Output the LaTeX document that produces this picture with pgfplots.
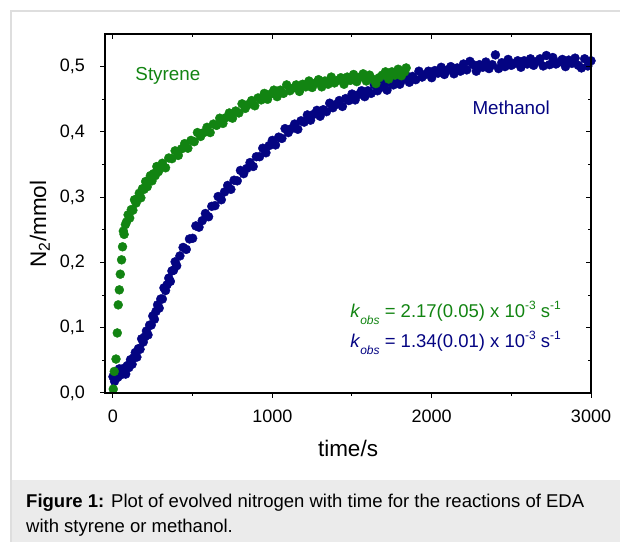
\documentclass[border=0pt]{standalone}
\usepackage{fontspec}
\setmainfont{Liberation Sans}
\usepackage{pgfplots}
\pgfplotsset{compat=1.18}
\definecolor{styr}{RGB}{18,132,18}
\definecolor{meth}{RGB}{4,4,130}
\definecolor{capbg}{RGB}{235,235,235}
\definecolor{framec}{RGB}{222,222,222}

\pgfplotsset{
  base/.style={
    scale only axis, width=486bp, height=359bp,
    at={(105bp,149bp)}, anchor=south west,
    xmin=-50, xmax=3000, ymin=0, ymax=0.55,
    xtick={0,1000,2000,3000}, minor x tick num=1,
    ytick={0,0.1,0.2,0.3,0.4,0.5}, minor y tick num=1,
    major tick length=5bp, minor tick length=3bp,
    axis line style={line width=1.1bp},
    every tick/.style={black, line width=1bp},
  }
}

\begin{document}
\begin{tikzpicture}[x=1bp,y=1bp]
\useasboundingbox (0,0) rectangle (620,542);
% frame and caption box
\fill[capbg] (11,0) rectangle (620,62);
\draw[framec, line width=1.2bp] (11,0) -- (11,531) -- (621,531);
\node[anchor=base west, inner sep=0pt, font=\fontsize{18.5bp}{22bp}\selectfont] at (26,34)
  {\textbf{Figure 1:} Plot of evolved nitrogen with time for the reactions of EDA};
\node[anchor=base west, inner sep=0pt, font=\fontsize{18.5bp}{22bp}\selectfont] at (26,9.5)
  {with styrene or methanol.};

\begin{axis}[base,
  tick align=outside, xtick pos=left, ytick pos=left,
  tick label style={font=\fontsize{18bp}{21bp}\selectfont},
  xticklabel style={inner sep=0pt, anchor=north, yshift=-12bp},
  yticklabel style={inner sep=0pt, anchor=east, xshift=-15bp,
    /pgf/number format/fixed, /pgf/number format/precision=1,
    /pgf/number format/fixed zerofill},
  /pgf/number format/assume math mode=true,
  /pgf/number format/use comma,
  /pgf/number format/1000 sep={},
  xlabel={time/s},
  ylabel={N\textsubscript{2}/mmol},
  every axis x label/.style={at={(axis description cs:0.5,-0.178)}, anchor=base,
    font=\fontsize{22.5bp}{26bp}\selectfont},
  every axis y label/.style={at={(axis description cs:-0.134,0.471)}, rotate=90,
    anchor=center, font=\fontsize{22.5bp}{26bp}\selectfont},
]
% methanol
\addplot[only marks, mark=*, mark size=4.5pt, color=meth] table {
0 0.025
10 0.018
20 0.028
30 0.024
40 0.037
50 0.028
60 0.032
70 0.038
80 0.029
90 0.042
100 0.039
110 0.051
120 0.044
130 0.054
140 0.062
150 0.055
160 0.068
170 0.067
180 0.083
190 0.078
200 0.086
210 0.095
220 0.089
230 0.104
240 0.104
250 0.118
260 0.113
270 0.125
280 0.135
290 0.130
300 0.144
310 0.144
320 0.161
330 0.157
340 0.166
350 0.176
360 0.171
370 0.187
380 0.188
390 0.201
400 0.195
420 0.210
440 0.223
460 0.220
480 0.236
500 0.237
520 0.256
540 0.254
560 0.264
580 0.275
600 0.270
620 0.286
640 0.287
660 0.301
680 0.296
700 0.308
720 0.318
740 0.312
760 0.326
780 0.325
800 0.341
820 0.336
840 0.344
860 0.353
880 0.347
900 0.362
920 0.362
940 0.375
960 0.368
980 0.379
1000 0.387
1020 0.380
1040 0.392
1060 0.390
1080 0.405
1100 0.399
1120 0.405
1140 0.412
1160 0.404
1180 0.417
1200 0.415
1220 0.426
1240 0.418
1260 0.427
1280 0.433
1300 0.424
1320 0.434
1340 0.431
1360 0.444
1380 0.437
1400 0.442
1420 0.448
1440 0.439
1460 0.451
1480 0.448
1500 0.458
1520 0.449
1540 0.457
1560 0.463
1580 0.454
1600 0.463
1620 0.459
1640 0.472
1660 0.463
1680 0.468
1700 0.474
1720 0.464
1740 0.476
1760 0.472
1780 0.482
1800 0.473
1820 0.480
1840 0.486
1860 0.476
1880 0.485
1900 0.480
1920 0.493
1940 0.484
1960 0.488
1980 0.493
2000 0.483
2020 0.494
2040 0.490
2060 0.499
2080 0.488
2100 0.495
2120 0.500
2140 0.489
2160 0.498
2180 0.493
2200 0.504
2220 0.495
2240 0.508
2260 0.503
2280 0.493
2300 0.503
2320 0.499
2340 0.507
2360 0.497
2380 0.503
2400 0.518
2420 0.497
2440 0.506
2460 0.500
2480 0.511
2500 0.502
2520 0.505
2540 0.509
2560 0.499
2580 0.509
2600 0.504
2620 0.512
2640 0.502
2660 0.508
2680 0.512
2700 0.501
2720 0.517
2740 0.503
2760 0.514
2780 0.504
2800 0.507
2820 0.511
2840 0.500
2860 0.510
2880 0.505
2900 0.513
2920 0.502
2940 0.498
2960 0.512
2980 0.501
3000 0.509
};
% styrene
\addplot[only marks, mark=*, mark size=4.5pt, color=styr] table {
2 0.006
8 0.033
19 0.052
27 0.092
33 0.135
40 0.158
46 0.182
54 0.204
60 0.224
65 0.248
70 0.243
78 0.258
85 0.262
95 0.273
105 0.268
115 0.281
125 0.280
135 0.296
145 0.291
155 0.298
165 0.306
175 0.299
185 0.313
195 0.312
205 0.324
215 0.316
225 0.326
235 0.333
245 0.325
255 0.336
265 0.333
275 0.347
285 0.339
295 0.345
310 0.352
330 0.345
350 0.360
370 0.359
390 0.371
410 0.364
430 0.374
450 0.382
470 0.375
490 0.387
510 0.385
530 0.399
550 0.393
570 0.399
590 0.407
610 0.399
630 0.412
650 0.410
670 0.421
690 0.413
710 0.422
730 0.429
750 0.421
770 0.432
790 0.429
810 0.443
830 0.436
850 0.442
870 0.448
890 0.440
910 0.452
930 0.449
950 0.459
970 0.450
990 0.458
1010 0.464
1030 0.454
1050 0.464
1070 0.459
1090 0.472
1110 0.463
1130 0.467
1150 0.472
1170 0.462
1190 0.473
1210 0.469
1230 0.478
1250 0.468
1270 0.475
1290 0.480
1310 0.469
1330 0.478
1350 0.473
1370 0.484
1390 0.475
1410 0.479
1430 0.483
1450 0.473
1470 0.484
1490 0.479
1510 0.488
1530 0.477
1550 0.484
1570 0.489
1590 0.478
1610 0.487
1630 0.481
1650 0.474
1670 0.483
1690 0.487
1710 0.492
1730 0.481
1750 0.492
1770 0.487
1790 0.496
1810 0.486
1830 0.492
1840 0.498
};
\node[anchor=base west, inner sep=0pt, text=styr, font=\fontsize{18.8bp}{22bp}\selectfont]
  at (axis cs:140,0.479) {Styrene};
\node[anchor=base west, inner sep=0pt, text=meth, font=\fontsize{18.8bp}{22bp}\selectfont]
  at (axis cs:2255,0.427) {Methanol};
\node[anchor=base west, inner sep=0pt, text=styr, font=\fontsize{18.5bp}{22bp}\selectfont]
  at (axis cs:1488,0.1164)
  {\textit{k}\raisebox{-7bp}{\fontsize{12bp}{14bp}\selectfont\textit{obs}} = 2.17(0.05) x 10\raisebox{8bp}{\fontsize{12bp}{14bp}\selectfont -3} s\raisebox{8bp}{\fontsize{12bp}{14bp}\selectfont -1}};
\node[anchor=base west, inner sep=0pt, text=meth, font=\fontsize{18.5bp}{22bp}\selectfont]
  at (axis cs:1488,0.0704)
  {\textit{k}\raisebox{-7bp}{\fontsize{12bp}{14bp}\selectfont\textit{obs}} = 1.34(0.01) x 10\raisebox{8bp}{\fontsize{12bp}{14bp}\selectfont -3} s\raisebox{8bp}{\fontsize{12bp}{14bp}\selectfont -1}};
\end{axis}

% mirrored ticks on top and right, pointing inwards
\begin{axis}[base,
  tick align=inside, xtick pos=right, ytick pos=right,
  xticklabels={}, yticklabels={},
]
\end{axis}
\end{tikzpicture}
\end{document}
